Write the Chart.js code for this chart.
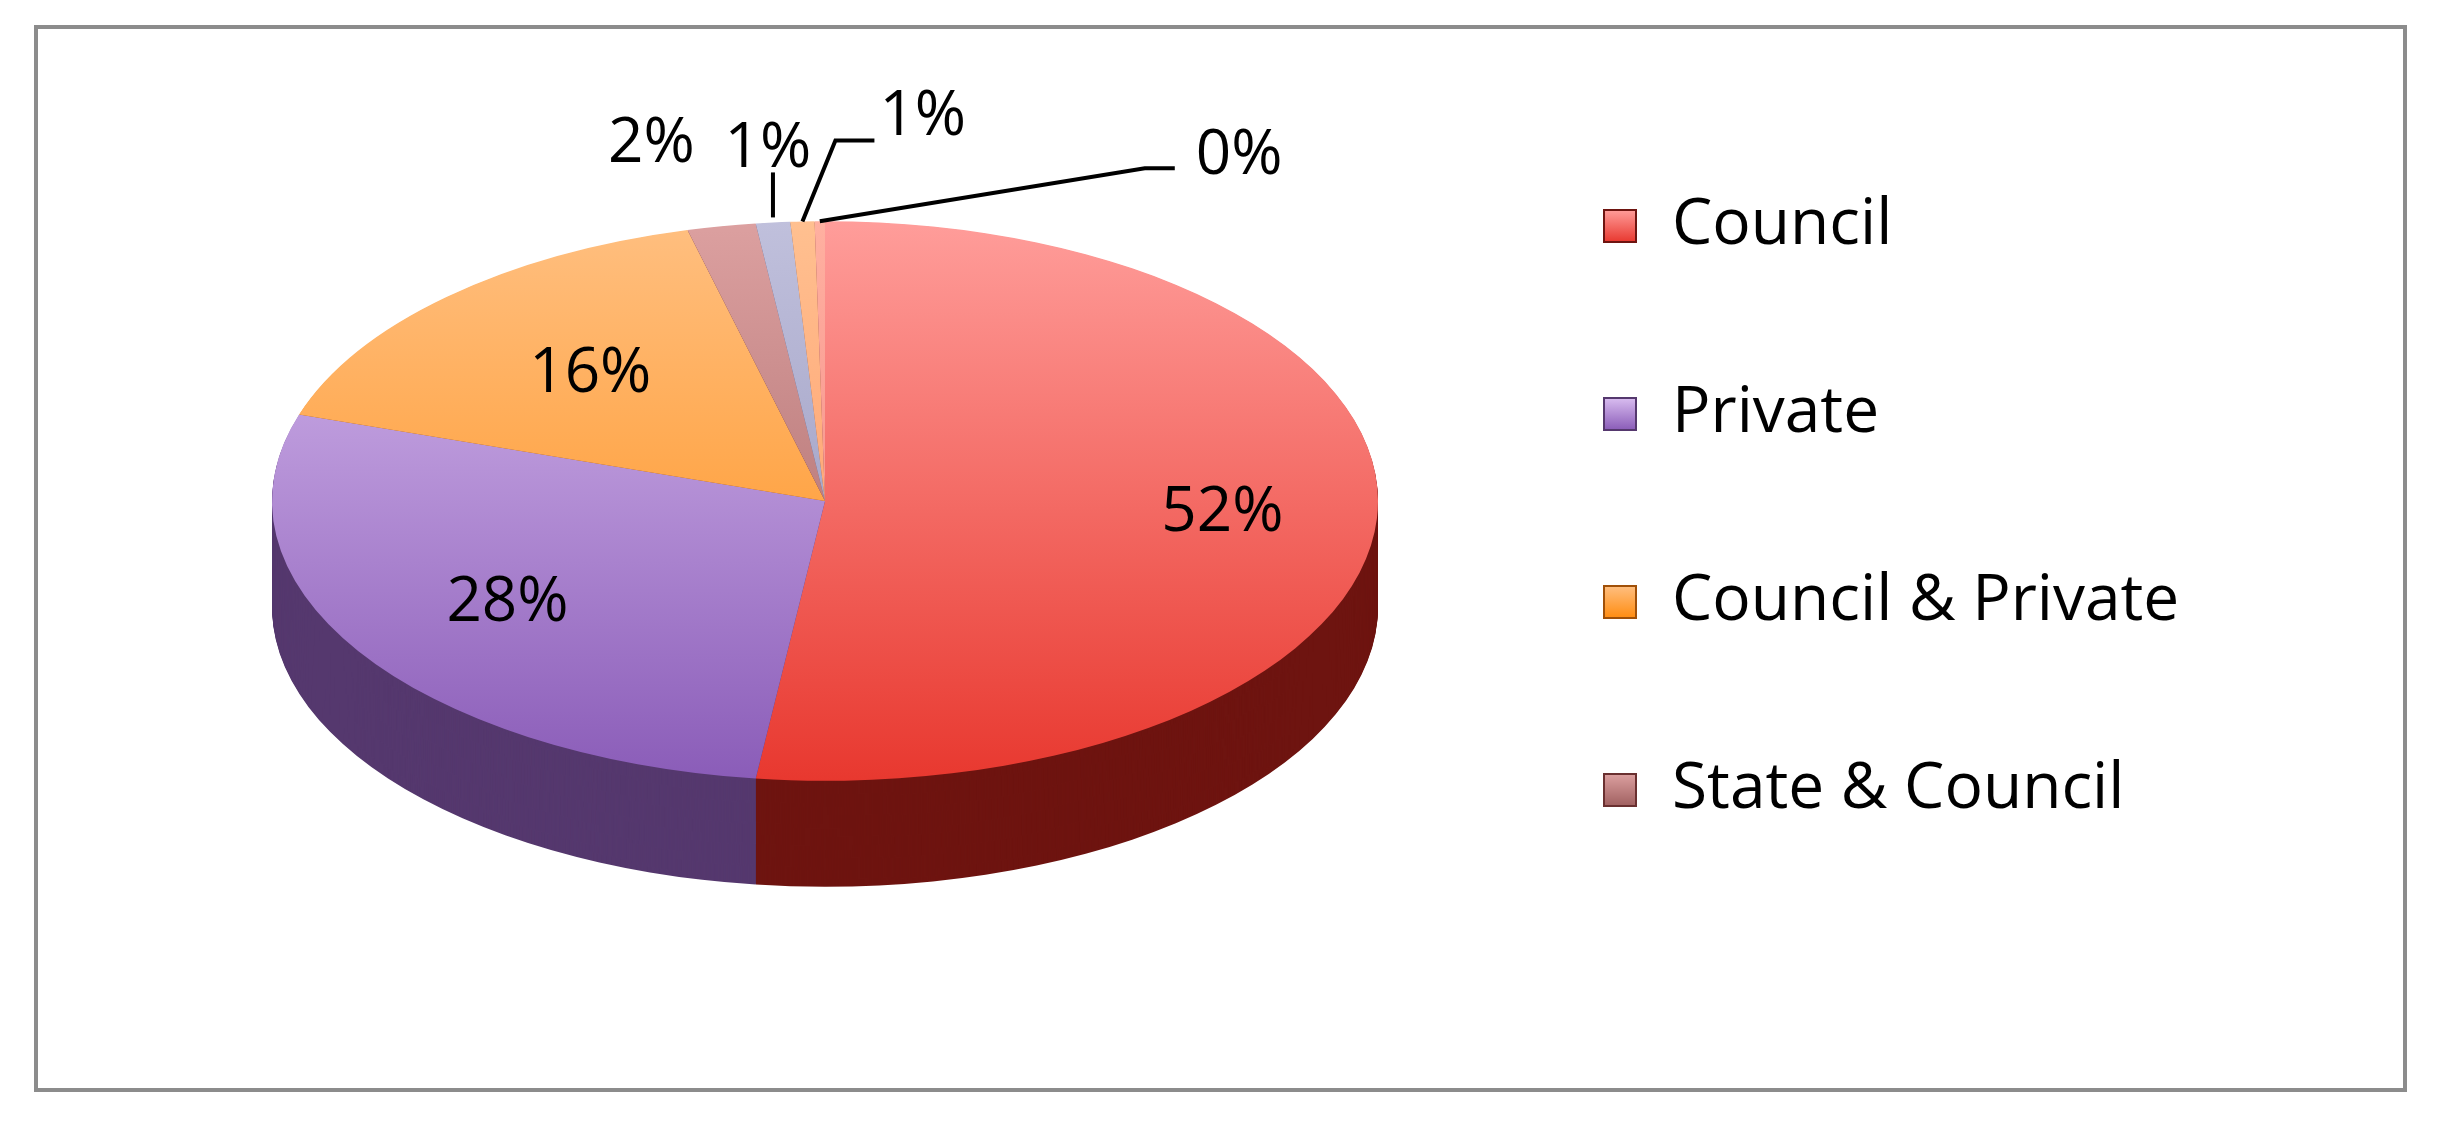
<!DOCTYPE html>
<html><head><meta charset="utf-8">
<script src="https://cdn.jsdelivr.net/npm/chart.js@4.4.0/dist/chart.umd.min.js"></script>
<style>
html,body{margin:0;padding:0;background:#fff;}
#frame{position:absolute;left:34px;top:25px;width:2365px;height:1059px;border:4px solid #8c8c8c;}
#wrap{position:absolute;left:0;top:0;width:2441px;height:1126px;}
</style></head><body>
<div id="frame"></div>
<div id="wrap"><canvas id="myChart"></canvas></div>
<script>
// data
var categories = ['Council','Private','Council & Private','State & Council','Other A','Other B','Other C'];
var shares = [52, 28, 16, 2, 1, 0.7, 0.3];
var pctLabels = ['52%','28%','16%','2%','1%','1%','0%'];
var legendCount = 4;

var topLight = ['#ff9d9a','#d9bdf0','#ffbf80','#dca0a0','#c0c0dc','#ffc090','#ffb0a0'];
var topDark  = ['#e8382f','#8a5cb8','#ff8c10','#a06060','#9090b8','#ff9060','#f08080'];
var sideCol  = ['#6e1410','#55386e','#a05008','#6a3030','#606080','#a06040','#904040'];

var cx = 825, cy = 501, R = 553, squash = 0.506, depth = 106;
// label placement: inside labels use radius fraction, outside ones an offset from the rim
var inside = [0.72, 0.68, 0.62];
var outsideOff = [null,null,null,[-70,-82],[-5,-73],[117,-104],[416,-65]];

var ctx = document.getElementById('myChart').getContext('2d');

function grad(i){
  var g = ctx.createLinearGradient(0, cy - R, 0, cy + R);
  g.addColorStop(0, topLight[i]);
  g.addColorStop(1, topDark[i]);
  return g;
}

var pie3d = {
  id: 'pie3d',
  beforeDatasetsDraw: function(chart){
    var c = chart.ctx, arcs = chart.getDatasetMeta(0).data;
    c.save();
    c.translate(cx, cy); c.scale(1, squash); c.translate(-cx, -cy);
    for (var d = depth / squash; d > 0; d -= 2) {
      arcs.forEach(function(a, i){
        c.save();
        c.translate(0, d);
        c.beginPath();
        c.moveTo(a.x, a.y);
        c.arc(a.x, a.y, a.outerRadius, a.startAngle, a.endAngle);
        c.closePath();
        c.fillStyle = sideCol[i];
        c.fill();
        c.restore();
      });
    }
    c.restore();
    c.save();
    c.translate(cx, cy); c.scale(1, squash); c.translate(-cx, -cy);
  },
  afterDatasetsDraw: function(chart){
    var c = chart.ctx, arcs = chart.getDatasetMeta(0).data;
    c.restore();
    c.save();
    c.fillStyle = '#000';
    c.strokeStyle = '#000';
    c.lineWidth = 4;
    c.font = '62px "Open Sans", "Liberation Sans", sans-serif';
    c.textBaseline = 'middle';
    arcs.forEach(function(a, i){
      var mid = (a.startAngle + a.endAngle) / 2;
      if (i < inside.length) {
        c.textAlign = 'center';
        c.fillText(pctLabels[i], a.x + Math.cos(mid) * R * inside[i], a.y + Math.sin(mid) * R * inside[i] * squash);
      } else {
        var ax = a.x + Math.cos(mid) * R, ay = a.y + Math.sin(mid) * R * squash;
        var o = outsideOff[i];
        c.beginPath();
        if (i === 4) { c.moveTo(ax, ay - 5); c.lineTo(ax, ay - 50); }
        if (i === 5) { c.moveTo(ax, ay); c.lineTo(ax + 33, ay - 81); c.lineTo(ax + 72, ay - 81); }
        if (i === 6) { c.moveTo(ax, ay); c.lineTo(ax + 325, ay - 53); c.lineTo(ax + 355, ay - 53); }
        if (i > 3) c.stroke();
        c.textAlign = i >= 5 ? 'left' : 'center';
        c.fillText(pctLabels[i], ax + o[0] - (i >= 5 ? 40 : 0), ay + o[1]);
      }
    });
    // legend
    c.font = '64px "Open Sans", "Liberation Sans", sans-serif';
    c.textAlign = 'left';
    for (var k = 0; k < legendCount; k++) {
      var ly = 226 + k * 188;
      var g = c.createLinearGradient(0, ly - 16, 0, ly + 16);
      g.addColorStop(0, topLight[k]); g.addColorStop(1, topDark[k]);
      c.fillStyle = g;
      c.fillRect(1604, ly - 16, 32, 32);
      c.strokeStyle = sideCol[k]; c.lineWidth = 2;
      c.strokeRect(1604, ly - 16, 32, 32);
      c.fillStyle = '#000';
      c.fillText(categories[k], 1672, ly);
    }
    c.restore();
  }
};

new Chart(ctx, {
  type: 'pie',
  data: {
    labels: categories,
    datasets: [{
      data: shares,
      backgroundColor: function(context){ return grad(context.dataIndex); },
      borderWidth: 0,
      radius: R
    }]
  },
  options: {
    responsive: true,
    maintainAspectRatio: false,
    animation: false,
    layout: { padding: { left: 0, top: 0, right: 2441 - 2 * cx, bottom: 1126 - 2 * cy } },
    plugins: { legend: { display: false }, tooltip: { enabled: false } }
  },
  plugins: [pie3d]
});
</script>
</body></html>
